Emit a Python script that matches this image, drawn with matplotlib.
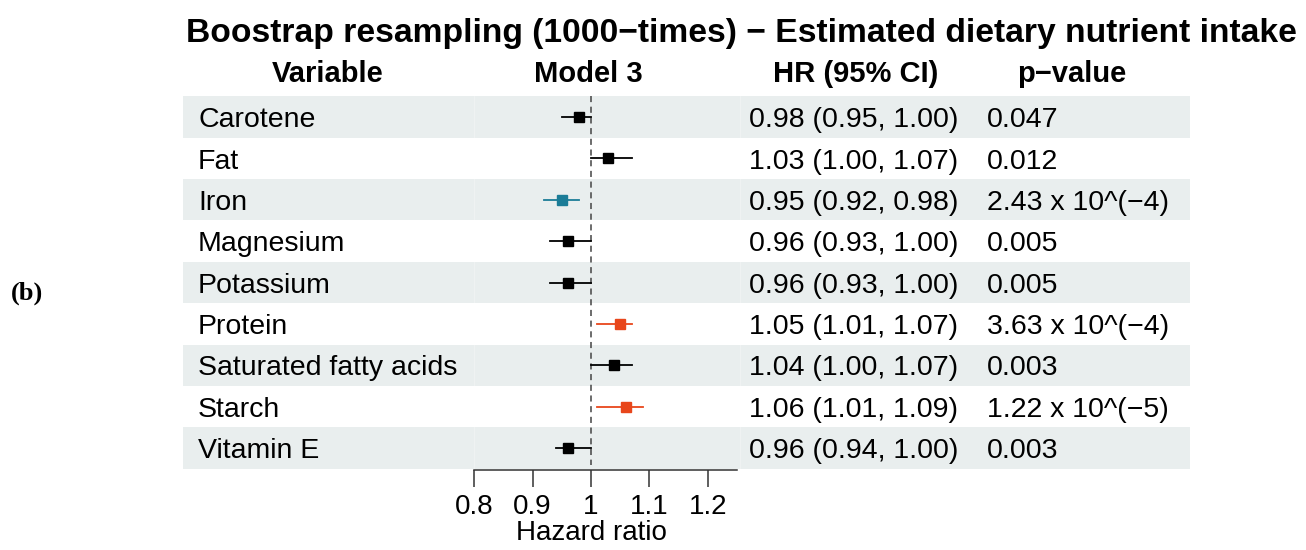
import matplotlib.pyplot as plt
import numpy as np

# forest plot data (bootstrap, model 3)
variables = ["Carotene", "Fat", "Iron", "Magnesium", "Potassium", "Protein",
             "Saturated fatty acids", "Starch", "Vitamin E"]
hr = [0.98, 1.03, 0.95, 0.96, 0.96, 1.05, 1.04, 1.06, 0.96]
ci_low = [0.95, 1.00, 0.92, 0.93, 0.93, 1.01, 1.00, 1.01, 0.94]
ci_high = [1.00, 1.07, 0.98, 1.00, 1.00, 1.07, 1.07, 1.09, 1.00]
p_values = ["0.047", "0.012", "2.43 x 10^(\u22124)", "0.005", "0.005",
            "3.63 x 10^(\u22124)", "0.003", "1.22 x 10^(\u22125)", "0.003"]
# significance group: 0 = none, -1 = protective, 1 = risk
sig_group = [0, 0, -1, 0, 0, 1, 0, 1, 0]
ticks = [0.8, 0.9, 1.0, 1.1, 1.2]
tick_labels = ["0.8", "0.9", "1", "1.1", "1.2"]

group_colors = {0: "black", -1: "#1b7c97", 1: "#e8461b"}
font = ["Liberation Sans", "DejaVu Sans"]
plt.rcParams["font.family"] = font

fig = plt.figure(figsize=(13.06, 5.5), dpi=100)
ax = fig.add_axes([183 / 1306, 1 - 470 / 550, 1007 / 1306, 374 / 550])
ax.set_xlim(0.3005, 2.027)
ax.set_ylim(8.53, -0.5075)

n = len(variables)
rows = np.arange(n)

# alternating bands
for i in rows:
    if i % 2 == 0:
        ax.axhspan(i - 0.5, i + 0.5, color="#e9eeee", lw=0, zorder=0)
for xv in (0.8, 1.2555):
    ax.plot([xv, xv], [-0.5, n - 0.5], color="white", lw=0.6, alpha=0.35, zorder=0.5)

# reference line
ax.plot([1, 1], [-0.5075, 8.4], color="#444444", lw=1.1, ls=(0, (4, 3)), zorder=1)

for i in rows:
    c = group_colors[sig_group[i]]
    ax.plot([ci_low[i], ci_high[i]], [i, i], color=c, lw=1.3, zorder=2)
    ax.plot(hr[i], i, marker="s", ms=6.5, color=c, zorder=3)

ytr = ax.get_yaxis_transform()
fs = 20.5
for i in rows:
    yb = i + 0.245
    ax.text(0.015, yb, variables[i], transform=ytr, fontsize=fs, va="baseline", ha="left")
    ax.text(0.5625, yb, f"{hr[i]:.2f} ({ci_low[i]:.2f}, {ci_high[i]:.2f})",
            transform=ytr, fontsize=fs, va="baseline", ha="left")
    ax.text(0.7984, yb, p_values[i], transform=ytr, fontsize=fs, va="baseline", ha="left")

# column headers
hy = -0.838
for xf, lab in zip([0.144, 0.402, 0.668, 0.883],
                   ["Variable", "Model 3", "HR (95% CI)", "p\u2212value"]):
    ax.text(xf, hy, lab, transform=ytr, fontsize=21, fontweight="bold",
            va="baseline", ha="center", clip_on=False)

# axis
for s in ["top", "right", "left"]:
    ax.spines[s].set_visible(False)
ax.spines["bottom"].set_bounds(0.8, 1.25)
ax.spines["bottom"].set_color("#333333")
ax.spines["bottom"].set_linewidth(1.1)
ax.set_yticks([])
ax.set_xticks(ticks)
ax.set_xticklabels(tick_labels, fontsize=20)
ax.tick_params(axis="x", length=12, width=1.1, color="#333333", pad=5)
ax.text(1.0, -0.168, "Hazard ratio", transform=ax.get_xaxis_transform(),
        fontsize=20, ha="center", va="center")

fig.text(741 / 1306, 1 - 42 / 550,
         "Boostrap resampling (1000\u2212times) \u2212 Estimated dietary nutrient intake",
         fontsize=24.2, fontweight="bold", ha="center", va="baseline")
fig.text(27 / 1306, 1 - 293 / 550, "(b)", fontsize=19, family="Liberation Serif",
         fontweight="bold", ha="center", va="center")

fig.savefig("out.png", dpi=100)
